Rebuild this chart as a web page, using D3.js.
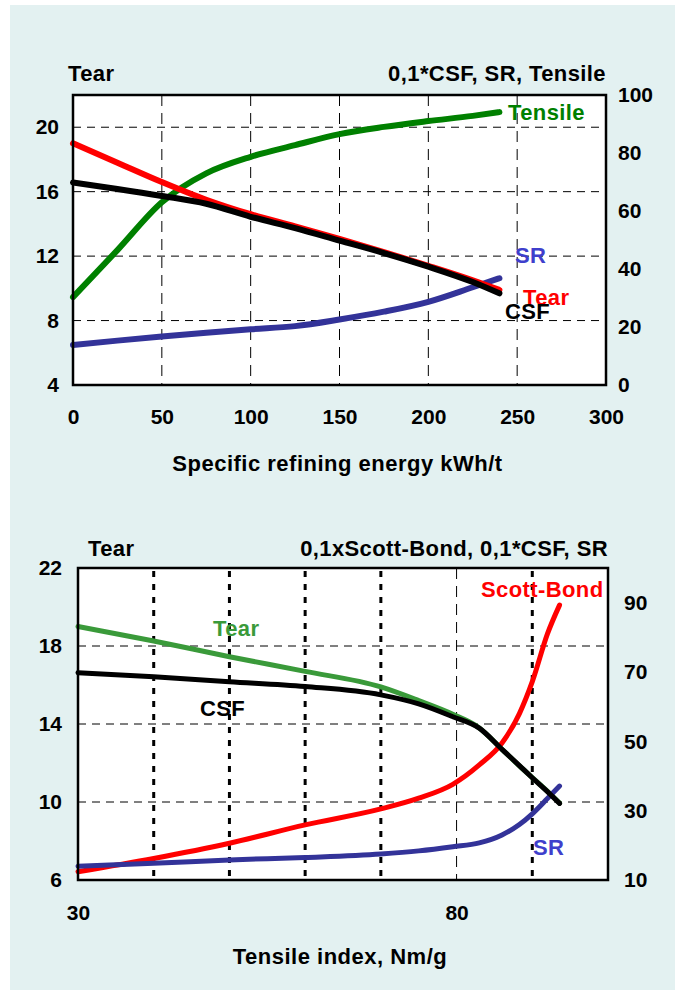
<!DOCTYPE html>
<html>
<head>
<meta charset="utf-8">
<script src="https://cdn.jsdelivr.net/npm/d3@7"></script>
<style>
  body { margin: 0; background: #fff; }
  text { font-family: "Liberation Sans", Arial, sans-serif; font-weight: bold; }
</style>
</head>
<body>
<svg id="chart" width="685" height="990"></svg>
<script>
// Top chart: refining energy
const energy = [0, 25, 50, 75, 100, 125, 150, 175, 200, 225, 240];
const tearTop = [19, 17.8, 16.6, 15.5, 14.6, 13.85, 13.07, 12.25, 11.4, 10.5, 9.9];
const csfTop = [69.8, 67.6, 65.2, 62.5, 58, 54.1, 49.8, 45.5, 40.8, 35.5, 31.6];
const srTop = [13.8, 15.3, 16.7, 18, 19.2, 20.3, 22.6, 25.3, 28.7, 33.7, 36.8];
const tensileTop = [30.3, 46.5, 63, 73, 78.7, 82.7, 86.5, 89, 91, 92.8, 94.1];
const energyTicks = [0, 50, 100, 150, 200, 250, 300];
const tearTicksTop = [4, 8, 12, 16, 20];
const rightTicksTop = [0, 20, 40, 60, 80, 100];

// Bottom chart: tensile index
const tensileIdx = [30, 40, 50, 60, 70, 75, 79.5, 83, 86, 88.3, 90, 92, 93.6];
const tearBot = [19, 18.26, 17.45, 16.7, 15.9, 15.2, 14.5, 13.8, 12.7, 11.85, 11.25, 10.55, 9.95];
const csfBot = [69.8, 68.6, 67.2, 65.8, 63.4, 60.8, 57.1, 53.8, 47.7, 43, 39.5, 35.5, 32.1];
const scottBot = [12.4, 16.2, 20.6, 25.9, 30.5, 33.6, 37.6, 43.2, 49.5, 58, 67.2, 81, 89.3];
const srBot = [14, 14.8, 15.8, 16.5, 17.5, 18.4, 19.6, 20.7, 23, 26, 29.1, 33.5, 37.1];
const tensileTicks = [30, 80];
const tensileMinorGrid = [40, 50, 60, 70, 90];
const tearTicksBot = [6, 10, 14, 18, 22];
const rightTicksBot = [10, 30, 50, 70, 90];

const svg = d3.select("#chart");

// panel background
svg.append("rect").attr("x", 10).attr("y", 5).attr("width", 665).attr("height", 985)
    .attr("fill", "#e3f1f1");

function drawChart(o) {
    const g = svg.append("g");
    const x = d3.scaleLinear().domain(o.xDomain).range([o.left, o.right]);
    const yL = d3.scaleLinear().domain(o.yLDomain).range([o.bottom, o.top]);
    const yR = d3.scaleLinear().domain(o.yRDomain).range([o.bottom, o.top]);

    g.append("rect")
        .attr("x", o.left).attr("y", o.top)
        .attr("width", o.right - o.left).attr("height", o.bottom - o.top)
        .attr("fill", "#fff");

    // horizontal grid
    g.append("g").selectAll("line").data(o.hGrid).enter().append("line")
        .attr("x1", o.left).attr("x2", o.right)
        .attr("y1", d => yL(d)).attr("y2", d => yL(d))
        .attr("stroke", "#000").attr("stroke-width", 1)
        .attr("stroke-dasharray", "8,6");

    // vertical grid
    g.append("g").selectAll("line").data(o.vGrid).enter().append("line")
        .attr("x1", d => x(d)).attr("x2", d => x(d))
        .attr("y1", o.top).attr("y2", o.bottom)
        .attr("stroke", "#000").attr("stroke-width", 1)
        .attr("stroke-dasharray", "11,7");

    if (o.minorGrid) {
        g.append("g").selectAll("line").data(o.minorGrid).enter().append("line")
            .attr("x1", d => x(d)).attr("x2", d => x(d))
            .attr("y1", o.top + 3).attr("y2", o.bottom)
            .attr("stroke", "#000").attr("stroke-width", 3)
            .attr("stroke-dasharray", "6,7");
    }

    // series
    o.series.forEach(s => {
        const y = s.axis === "L" ? yL : yR;
        const line = d3.line()
            .x((d, i) => x(o.xs[i]))
            .y(d => y(d))
            .curve(d3.curveMonotoneX);
        g.append("path").datum(s.values)
            .attr("d", line)
            .attr("fill", "none")
            .attr("stroke", s.color)
            .attr("stroke-width", o.lineWidth)
            .attr("stroke-linecap", "round")
            .attr("stroke-linejoin", "round");
    });

    // frame
    g.append("rect")
        .attr("x", o.left).attr("y", o.top)
        .attr("width", o.right - o.left).attr("height", o.bottom - o.top)
        .attr("fill", "none").attr("stroke", "#000").attr("stroke-width", 2.5);

    // axes (labels only)
    const axL = g.append("g").attr("transform", `translate(${o.left},0)`)
        .call(d3.axisLeft(yL).tickValues(o.leftTicks).tickSize(0).tickPadding(o.padL));
    const axR = g.append("g").attr("transform", `translate(${o.right},0)`)
        .call(d3.axisRight(yR).tickValues(o.rightTicks).tickSize(0).tickPadding(o.padR));
    const axB = g.append("g").attr("transform", `translate(0,${o.bottom})`)
        .call(d3.axisBottom(x).tickValues(o.xTicks).tickSize(0).tickPadding(o.padB));
    [axL, axR, axB].forEach(a => {
        a.select(".domain").remove();
        a.selectAll("text").attr("font-size", 21).attr("fill", "#000")
            .attr("font-family", "Liberation Sans, Arial, sans-serif").attr("font-weight", "bold");
    });

    // titles
    g.append("text").attr("x", o.leftTitleX).attr("y", o.titleY).attr("font-size", 22)
        .attr("letter-spacing", 0.4).text(o.leftTitle);
    g.append("text").attr("x", o.right).attr("y", o.titleY).attr("font-size", 22)
        .attr("letter-spacing", 0.4).attr("text-anchor", "end").text(o.rightTitle);
    g.append("text").attr("x", (o.left + o.right) / 2 + o.xTitleDx).attr("y", o.xTitleY)
        .attr("font-size", 22).attr("letter-spacing", 0.5)
        .attr("text-anchor", "middle").text(o.xTitle);

    // series labels
    o.labels.forEach(l => {
        g.append("text").attr("x", l.x).attr("y", l.y).attr("font-size", 22)
            .attr("letter-spacing", 0.4).attr("fill", l.color).text(l.text);
    });
}

drawChart({
    left: 73, right: 606, top: 95, bottom: 385,
    xDomain: [0, 300], yLDomain: [4, 22], yRDomain: [0, 100],
    xs: energy,
    hGrid: [8, 12, 16, 20],
    vGrid: [50, 100, 150, 200, 250],
    leftTicks: tearTicksTop, rightTicks: rightTicksTop, xTicks: energyTicks,
    padL: 14, padR: 12, padB: 24,
    lineWidth: 6,
    series: [
        { values: tensileTop, axis: "R", color: "#008000" },
        { values: srTop, axis: "R", color: "#333399" },
        { values: tearTop, axis: "L", color: "#ff0000" },
        { values: csfTop, axis: "R", color: "#000000" }
    ],
    leftTitle: "Tear", leftTitleX: 68, rightTitle: "0,1*CSF, SR, Tensile", titleY: 81,
    xTitle: "Specific refining energy kWh/t", xTitleY: 471, xTitleDx: -2,
    labels: [
        { text: "Tensile", x: 508, y: 120, color: "#008000" },
        { text: "SR", x: 515, y: 263, color: "#3f3fcc" },
        { text: "Tear", x: 523, y: 305, color: "#ff0000" },
        { text: "CSF", x: 505, y: 319, color: "#000000" }
    ]
});

drawChart({
    left: 78, right: 608, top: 568, bottom: 880,
    xDomain: [30, 100], yLDomain: [6, 22], yRDomain: [10, 100],
    xs: tensileIdx,
    hGrid: [10, 14, 18],
    vGrid: [80],
    minorGrid: tensileMinorGrid,
    leftTicks: tearTicksBot, rightTicks: rightTicksBot, xTicks: tensileTicks,
    padL: 16, padR: 16, padB: 25,
    lineWidth: 5,
    series: [
        { values: tearBot, axis: "L", color: "#3a9a3a" },
        { values: scottBot, axis: "R", color: "#ff0000" },
        { values: srBot, axis: "R", color: "#333399" },
        { values: csfBot, axis: "R", color: "#000000" }
    ],
    leftTitle: "Tear", leftTitleX: 88, rightTitle: "0,1xScott-Bond, 0,1*CSF, SR", titleY: 556,
    xTitle: "Tensile index, Nm/g", xTitleY: 964, xTitleDx: -3,
    labels: [
        { text: "Scott-Bond", x: 481, y: 597, color: "#ff0000" },
        { text: "Tear", x: 213, y: 636, color: "#3a9a3a" },
        { text: "CSF", x: 200, y: 716, color: "#000000" },
        { text: "SR", x: 533, y: 855, color: "#3f3fcc" }
    ]
});
</script>
</body>
</html>
